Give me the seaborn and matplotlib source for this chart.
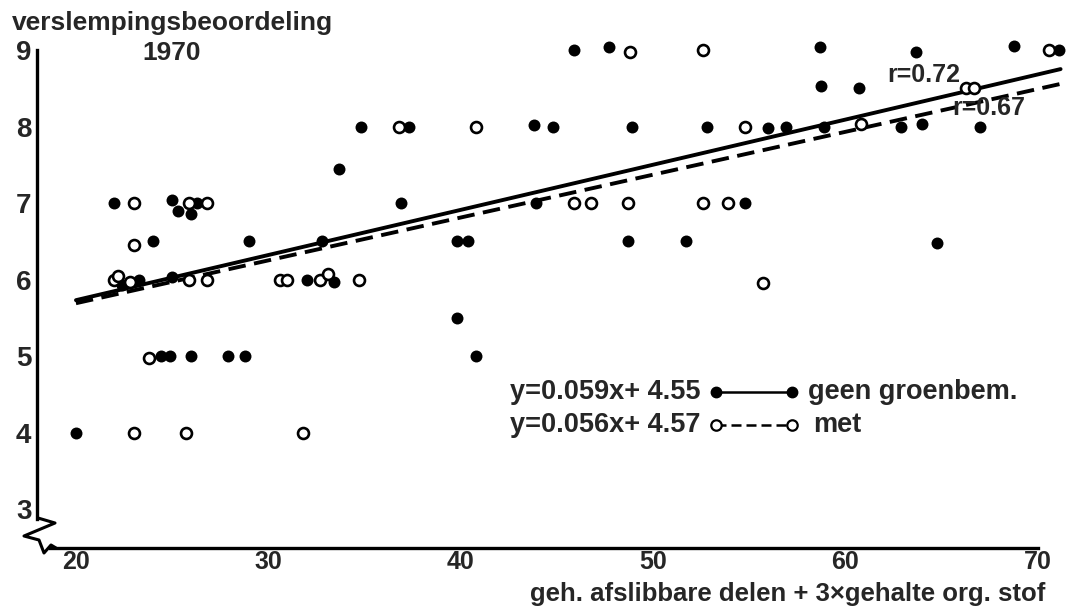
"""Verslemping 1970: beoordeling tegen afslibbare delen + 3x org. stof."""

import numpy as np
import matplotlib
matplotlib.use("Agg")
import matplotlib.pyplot as plt
import seaborn as sns

# zonder groenbemesting (dichte rondjes)
geen_x = [20, 22, 24, 25, 25.3, 26, 26.3, 29, 22.4, 23.3, 25, 24.4, 24.9, 26, 27.9, 28.8,
          32, 33.4, 32.8, 33.7, 34.8, 37.3, 43.8, 44.8, 48.9, 45.9, 47.7, 36.9, 43.9,
          39.8, 40.4, 48.7, 51.7, 39.8, 40.8, 58.7, 63.7, 68.8, 71.1, 58.75, 60.7,
          52.8, 56, 56.9, 58.9, 62.9, 64, 67, 54.8, 64.8]
geen_y = [4, 7, 6.5, 7.04, 6.9, 6.85, 7, 6.5, 5.93, 6, 6.03, 5, 5, 5, 5, 5,
          6, 5.97, 6.5, 7.45, 8, 8, 8.02, 8, 8, 9, 9.04, 7, 7,
          6.5, 6.5, 6.5, 6.5, 5.5, 5, 9.04, 8.97, 9.05, 9, 8.53, 8.51,
          8, 7.98, 8, 8, 8, 8.03, 8, 7, 6.48]

# met groenbemesting (open rondjes)
met_x = [23, 23, 25.9, 26.8, 22, 22.2, 22.8, 25.9, 26.8, 30.6, 31, 32.7, 33.1, 34.7,
         23, 25.7, 31.8, 23.8, 48.8, 36.8, 40.8, 45.9, 46.8, 48.7, 52.6, 70.6,
         66.3, 66.7, 54.8, 60.8, 52.6, 53.9, 55.7]
met_y = [7, 6.45, 7, 7, 6, 6.05, 5.97, 6, 6, 6, 6, 6, 6.07, 6,
         4, 4, 4, 4.97, 8.97, 8, 8, 7, 7, 7, 9, 9,
         8.5, 8.5, 8, 8.03, 7, 7, 5.96]

# regressielijnen
geen_slope, geen_icpt, geen_r = 0.059, 4.55, 0.72
met_slope, met_icpt, met_r = 0.056, 4.57, 0.67
line_x = [20, 71.2]

x_ticks = [20, 30, 40, 50, 60, 70]
y_ticks = [3, 4, 5, 6, 7, 8, 9]

W, H = 1070, 606

sns.set_style("white")
plt.rcParams["font.family"] = ["Liberation Sans", "DejaVu Sans"]
plt.rcParams["font.weight"] = "bold"

fig = plt.figure(figsize=(W / 100, H / 100), dpi=100)
ax = fig.add_axes([0, 0, 1, 1])
ax.set_facecolor("white")


def px(x, y):
    # pixel position (top-left origin) -> axes fraction
    return x / W, 1 - y / H


lx = np.array(line_x)
sns.lineplot(x=lx, y=geen_slope * lx + geen_icpt, color="black", lw=2.8, ax=ax)
sns.lineplot(x=lx, y=met_slope * lx + met_icpt, color="black", lw=2.8,
             linestyle=(0, (4.5, 2.2)), ax=ax)

sns.scatterplot(x=geen_x, y=geen_y, color="black", edgecolor="black", s=74,
                linewidth=0, zorder=3, ax=ax)
sns.scatterplot(x=met_x, y=met_y, color="white", edgecolor="black", s=62,
                linewidth=1.9, zorder=3, ax=ax)

ax.set_xlim(16.05, 71.69)
ax.set_ylim(1.732, 9.654)

# assen
for side in ["top", "right"]:
    ax.spines[side].set_visible(False)
ax.spines["left"].set_position(("data", 17.97))
ax.spines["left"].set_bounds(2.87, 9)
ax.spines["bottom"].set_position(("data", 2.49))
ax.spines["bottom"].set_bounds(18.65, 70)
for side in ["left", "bottom"]:
    ax.spines[side].set_linewidth(2.4)
    ax.spines[side].set_color("black")

ax.set_xticks(x_ticks)
ax.set_yticks(y_ticks)
ax.tick_params(axis="y", direction="in", length=9, width=2.2, pad=4, labelsize=20)
ax.tick_params(axis="x", direction="in", length=8, width=2.2, pad=1.5, labelsize=18)
ax.set_xlabel("")
ax.set_ylabel("")

# asbreuk
brk = [(38, 518), (55, 523), (24, 536), (39, 540), (44, 553), (51, 545), (56, 548)]
bx = [px(a, b)[0] for a, b in brk]
by = [px(a, b)[1] for a, b in brk]
ax.plot(bx, by, color="black", lw=2.2, transform=ax.transAxes, clip_on=False)

# teksten
ax.text(*px(12, 30), "verslempingsbeoordeling", fontsize=19, ha="left", va="baseline",
        transform=ax.transAxes)
ax.text(*px(172, 53), "1970", fontsize=19, ha="center", va="center", transform=ax.transAxes)
ax.text(*px(1045, 606), "geh. afslibbare delen + 3×gehalte org. stof", fontsize=18.5,
        ha="right", va="bottom", transform=ax.transAxes)
ax.text(*px(887, 75), f"r={geen_r:.2f}", fontsize=18, ha="left", va="center",
        transform=ax.transAxes)
ax.text(*px(952, 108), f"r={met_r:.2f}", fontsize=18, ha="left", va="center",
        transform=ax.transAxes)

# legenda
ax.text(*px(510, 392), f"y={geen_slope}x+ {geen_icpt}", fontsize=19.5, ha="left",
        va="center", transform=ax.transAxes)
ax.text(*px(510, 425), f"y={met_slope}x+ {met_icpt}", fontsize=19.5, ha="left",
        va="center", transform=ax.transAxes)
(x0, y1), (x1, _) = px(716, 392), px(792, 392)
y2 = px(0, 425)[1]
ax.plot([x0, x1], [y1, y1], color="black", lw=1.8, marker="o", ms=7.5,
        mfc="black", mec="black", transform=ax.transAxes)
ax.plot([x0, x1], [y2, y2], color="black", lw=1.8, ls=(0, (4, 2)), marker="o", ms=7.5,
        mfc="white", mec="black", mew=1.6, transform=ax.transAxes)
ax.text(*px(808, 392), "geen groenbem.", fontsize=19.5, ha="left", va="center",
        transform=ax.transAxes)
ax.text(*px(813, 425), "met", fontsize=19.5, ha="left", va="center", transform=ax.transAxes)

fig.savefig("out.png", dpi=100, facecolor="white")
